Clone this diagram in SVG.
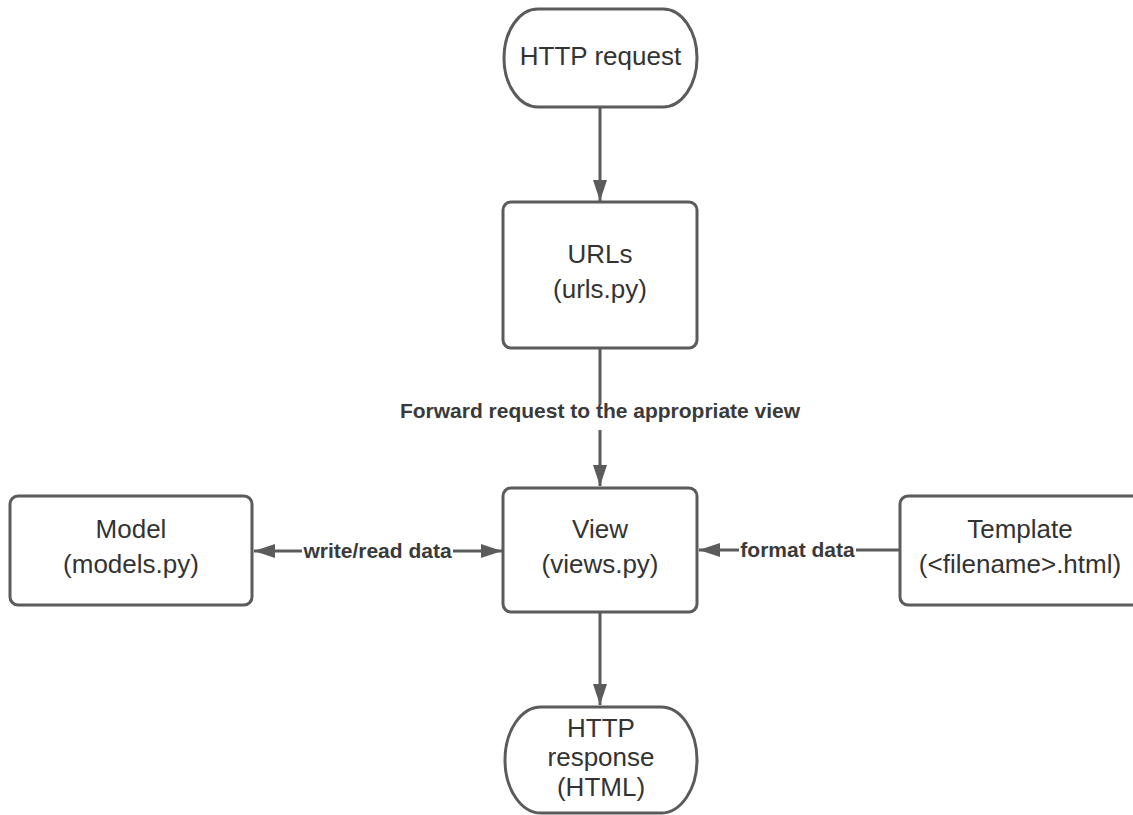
<svg xmlns="http://www.w3.org/2000/svg" width="1133" height="815" viewBox="0 0 1133 815">
  <style>
    .shape { fill: #ffffff; stroke: #5b5b5b; stroke-width: 3; }
    .label { font-family: "Liberation Sans", Arial, sans-serif; font-size: 26px; fill: #333333; text-anchor: middle; }
    .edge { fill: none; stroke: #5b5b5b; stroke-width: 3; }
    .edge-label { font-family: "Liberation Sans", Arial, sans-serif; font-size: 21px; font-weight: bold; fill: #3a3a3a; text-anchor: middle; }
  </style>
  <defs>
    <marker id="arrow" markerUnits="userSpaceOnUse" markerWidth="22" markerHeight="16" viewBox="0 0 22 16" refX="21" refY="8" orient="auto-start-reverse">
      <path d="M0,1 L21,8 L0,15 Z" fill="#5b5b5b"/>
    </marker>
  </defs>
  <rect width="1133" height="815" fill="#ffffff"/>

  <!-- connectors -->
  <g id="connectors">
    <path class="edge" d="M600,107 V201" marker-end="url(#arrow)"/>
    <path class="edge" d="M600,348 V405"/>
    <path class="edge" d="M600,430 V486" marker-end="url(#arrow)"/>
    <text class="edge-label" x="600" y="418">Forward request to the appropriate view</text>
    <path class="edge" d="M302,551 H254" marker-end="url(#arrow)"/>
    <path class="edge" d="M453,551 H502" marker-end="url(#arrow)"/>
    <text class="edge-label" x="377.5" y="558">write/read data</text>
    <path class="edge" d="M739,550 H699" marker-end="url(#arrow)"/>
    <path class="edge" d="M900,550 H856"/>
    <text class="edge-label" x="797.5" y="557">format data</text>
    <path class="edge" d="M600,612 V705" marker-end="url(#arrow)"/>
  </g>

  <!-- start terminator -->
  <g id="http-request">
    <rect class="shape" x="504" y="9" width="193" height="98" rx="34" ry="49"/>
    <text class="label" x="600.5" y="65">HTTP request</text>
  </g>

  <g id="urls">
    <rect class="shape" x="503" y="202" width="194" height="146" rx="8"/>
    <text class="label" x="600" y="263">URLs</text>
    <text class="label" x="600" y="298">(urls.py)</text>
  </g>

  <g id="view">
    <rect class="shape" x="503" y="488" width="194" height="124" rx="8"/>
    <text class="label" x="600" y="538">View</text>
    <text class="label" x="600" y="573">(views.py)</text>
  </g>

  <g id="model">
    <rect class="shape" x="10" y="496" width="242" height="109" rx="8"/>
    <text class="label" x="131" y="538">Model</text>
    <text class="label" x="131" y="573">(models.py)</text>
  </g>

  <g id="template">
    <rect class="shape" x="900" y="496" width="242" height="109" rx="8"/>
    <text class="label" x="1020" y="538">Template</text>
    <text class="label" x="1020" y="573">(&lt;filename&gt;.html)</text>
  </g>

  <!-- end terminator -->
  <g id="http-response">
    <rect class="shape" x="505" y="707" width="192" height="106" rx="36" ry="53"/>
    <text class="label" x="601" y="737">HTTP</text>
    <text class="label" x="601" y="766">response</text>
    <text class="label" x="601" y="796">(HTML)</text>
  </g>
</svg>
